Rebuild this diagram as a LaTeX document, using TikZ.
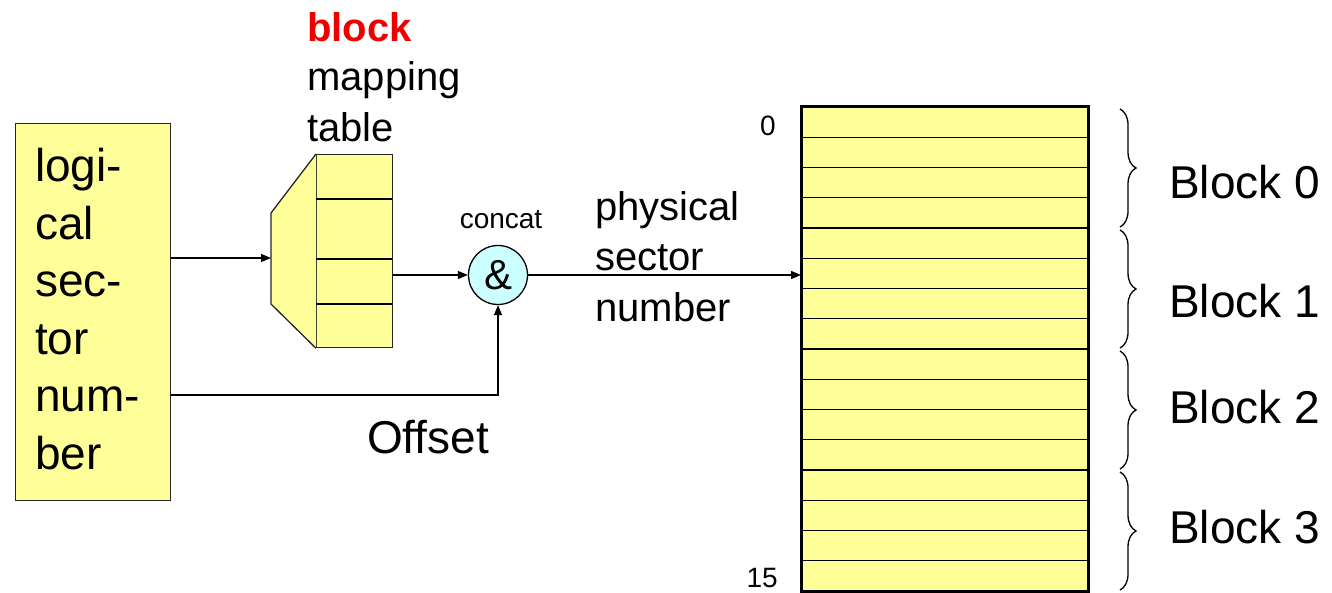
\documentclass[tikz,border=0pt]{standalone}
\usepackage{fontspec}
\setmainfont{Liberation Sans}
\usetikzlibrary{arrows.meta,decorations.pathreplacing}
\definecolor{lyellow}{HTML}{FFFF99}
\definecolor{lcyan}{HTML}{CCFFFF}
\definecolor{bred}{HTML}{EE0000}
\begin{document}
\begin{tikzpicture}[x=1pt,y=-1pt,
  arr/.style={draw, line width=1.3pt, -{Triangle[length=10pt,width=8pt]}},
  txt/.style={anchor=base west, inner sep=0pt},
  big/.style={font=\fontsize{46}{55}\selectfont},
  mid/.style={font=\fontsize{40}{48}\selectfont},
  small/.style={font=\fontsize{28}{34}\selectfont},
  ybox/.style={draw=black!85, line width=1.3pt, fill=lyellow, inner sep=0pt},
  brc/.style={decorate, decoration={brace, amplitude=16pt}, line width=1.3pt}]
\useasboundingbox (0,0) rectangle (1332,593);

% logical sector number box
\node[ybox, anchor=north west, minimum width=155pt, minimum height=377pt] (lsn) at (15,123) {};
\foreach \w [count=\i from 0] in {logi-,cal,sec-,tor,num-,ber}
  \node[txt, big] (lt\i) at (35,{182+57.4*\i}) {\w};

% mapping table
\node[ybox, anchor=north west, minimum width=76pt, minimum height=193pt] (map) at (316,154) {};
\draw[ybox] (map.north west) -- (271,213) -- (271,304) -- (map.south west);
\coordinate (mapin) at (271,258);
\draw[line width=1.3pt] (316,199) -- (392,199) (316,259) -- (392,259) (316,304) -- (392,304);
\node[txt, mid, font=\fontsize{40}{48}\selectfont\bfseries, text=bred] (lblk) at (307,42) {block};
\node[txt, mid] (lmap) at (307,91) {mapping};
\node[txt, mid] (ltab) at (307,142) {table};

% concat
\node[circle, draw, line width=1.3pt, fill=lcyan, minimum size=59pt, inner sep=0pt,
      font=\fontsize{42}{48}\selectfont] (cc) at (498,275) {\&};
\node[anchor=base, inner sep=0pt, font=\fontsize{28}{34}\selectfont] (lcc) at (501,229) {concat};

% physical sectors table
\node[fill=lyellow, anchor=north west, minimum width=287pt, minimum height=484pt, inner sep=0pt] (pt) at (801,107) {};
\foreach \i in {1,...,15}
  \draw[line width=1.1pt] (801,{107+30.25*\i}) -- (1088,{107+30.25*\i});
\foreach \i in {4,8,12}
  \draw[line width=2.6pt] (801,{107+30.25*\i}) -- (1088,{107+30.25*\i});
\draw[line width=3pt] (pt.north west) rectangle (pt.south east);
\node[anchor=base east, inner sep=0pt, small] (l0) at (776,136) {0};
\node[anchor=base east, inner sep=0pt, small] (l15) at (778,587) {15};

% braces and block labels
\foreach \i in {0,...,3}
  \draw[brc] (1120,{109+121*\i}) -- (1120,{227+121*\i});
\node[txt, big] (b0) at (1169,199) {Block 0};
\node[txt, big] (b1) at (1169,318) {Block 1};
\node[txt, big] (b2) at (1169,423) {Block 2};
\node[txt, big] (b3) at (1169,543) {Block 3};

% other labels
\node[txt, mid] (lph) at (595,221) {physical};
\node[txt, mid] (lse) at (595,271) {sector};
\node[txt, mid] (lnu) at (595,322) {number};
\node[txt, big] (loff) at (367,453) {Offset};

% connectors
\draw[arr] (lsn.east |- mapin) -- (mapin);
\draw[arr] (map.east |- cc) -- (cc.west);
\draw[arr] (lsn.east |- 0,395) -| (cc.south);
\draw[arr] (cc.east) -- (pt.west |- cc);
\end{tikzpicture}
\end{document}
